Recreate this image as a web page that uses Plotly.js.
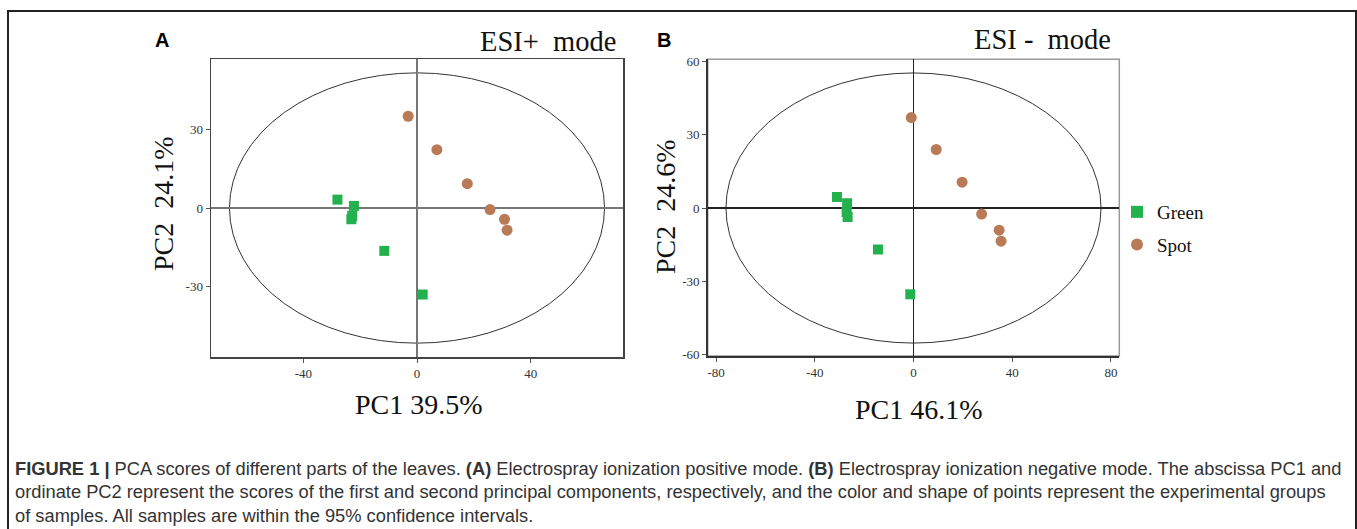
<!DOCTYPE html>
<html>
<head>
<meta charset="utf-8">
<script src="https://cdn.plot.ly/plotly-3.0.1.min.js"></script>
<style>html,body{margin:0;padding:0;background:#fff;}#chart{width:1357px;height:529px;}</style>
</head>
<body>
<div id="chart"></div>
<script>
// ---- data ----
const groups = ["Green", "Spot"];
const panelA_greenX = [-28.0, -22.2, -22.8, -23.1, -11.5, 2.0];
const panelA_greenY = [3.2, 0.8, -3.0, -4.3, -16.4, -33.1];
const panelA_spotX  = [-3.1, 7.0, 17.7, 25.7, 30.8, 31.7];
const panelA_spotY  = [35.1, 22.3, 9.3, -0.6, -4.3, -8.5];
const panelB_greenX = [-31.0, -26.9, -27.1, -26.7, -14.4, -1.3];
const panelB_greenY = [4.5, 2.0, -1.6, -3.7, -17.0, -35.4];
const panelB_spotX  = [-0.9, 9.2, 19.7, 27.6, 34.7, 35.5];
const panelB_spotY  = [37.1, 24.0, 10.6, -2.5, -9.1, -13.6];
// 95% confidence ellipse semi-axes [PC1, PC2]
const ellipseA = [66.0, 51.7];
const ellipseB = [76.0, 55.4];
// tick labels
const tickA_x = [-40, 0, 40];
const tickA_y = [-30, 0, 30];
const tickB_x = [-80, -40, 0, 40, 80];
const tickB_y = [-60, -30, 0, 30, 60];
const labels = {
  panelA: "A", panelB: "B",
  modeA: "ESI+\u00a0\u00a0mode", modeB: "ESI -\u00a0\u00a0mode",
  xA: "PC1 39.5%", yA: "PC2\u00a0\u00a024.1%",
  xB: "PC1 46.1%", yB: "PC2\u00a0\u00a024.6%"
};
const caption = [
  "<b>FIGURE 1 |</b> PCA scores of different parts of the leaves. <b>(A)</b> Electrospray ionization positive mode. <b>(B)</b> Electrospray ionization negative mode. The abscissa PC1 and",
  "ordinate PC2 represent the scores of the first and second principal components, respectively, and the color and shape of points represent the experimental groups",
  "of samples. All samples are within the 95% confidence intervals."
];

// ---- styles ----
const W = 1357, H = 529;
const px = v => v / W, py = v => 1 - v / H;
const GREEN = "#22b14c", BROWN = "#b97a57";
const serif = "Liberation Serif, Times New Roman, serif";
const tickTxt = a => a.map(v => String(v));

const traces = [
  {x: panelA_greenX, y: panelA_greenY, xaxis: "x", yaxis: "y", mode: "markers", type: "scatter",
   name: groups[0], legendgroup: "g", marker: {symbol: "square", size: 10, color: GREEN}},
  {x: panelA_spotX, y: panelA_spotY, xaxis: "x", yaxis: "y", mode: "markers", type: "scatter",
   name: groups[1], legendgroup: "s", marker: {symbol: "circle", size: 11, color: BROWN}},
  {x: panelB_greenX, y: panelB_greenY, xaxis: "x2", yaxis: "y2", mode: "markers", type: "scatter",
   name: groups[0], legendgroup: "g", showlegend: false, marker: {symbol: "square", size: 10, color: GREEN}},
  {x: panelB_spotX, y: panelB_spotY, xaxis: "x2", yaxis: "y2", mode: "markers", type: "scatter",
   name: groups[1], legendgroup: "s", showlegend: false, marker: {symbol: "circle", size: 11, color: BROWN}}
];

const axBase = {
  showgrid: false, ticks: "outside", ticklen: 4, tickcolor: "#555", tickwidth: 1,
  tickfont: {family: serif, size: 13, color: "#333"}, zeroline: true, fixedrange: true
};

const ann = (text, x, y, size, extra) => Object.assign({
  text: text, xref: "paper", yref: "paper", x: px(x), y: py(y), xanchor: "center", yanchor: "middle",
  showarrow: false, font: {family: serif, size: size, color: "#111"}
}, extra || {});

const layout = {
  width: W, height: H, margin: {l: 0, r: 0, t: 0, b: 0},
  paper_bgcolor: "#fff", plot_bgcolor: "#fff", showlegend: true,
  legend: {x: px(1117), y: py(193), xanchor: "left", yanchor: "top", bgcolor: "rgba(0,0,0,0)",
           font: {family: serif, size: 19, color: "#111"}, tracegroupgap: 5, itemsizing: "constant"},
  xaxis: Object.assign({}, axBase, {domain: [px(211), px(623)], range: [-72.5, 72.5], anchor: "y",
    tickvals: tickA_x, ticktext: tickTxt(tickA_x), showline: true, mirror: true, linecolor: "#444", linewidth: 1.5,
    zerolinecolor: "#777", zerolinewidth: 1.2}),
  yaxis: Object.assign({}, axBase, {domain: [py(357), py(59)], range: [-57, 57], anchor: "x",
    tickvals: tickA_y, ticktext: tickTxt(tickA_y), showline: true, mirror: true, linecolor: "#444", linewidth: 1.5,
    zerolinecolor: "#777", zerolinewidth: 1.2}),
  xaxis2: Object.assign({}, axBase, {domain: [px(707.7), px(1119.3)], range: [-83.4, 83.4], anchor: "y2",
    tickvals: tickB_x, ticktext: tickTxt(tickB_x), showline: true, linecolor: "#333", linewidth: 1.5,
    zerolinecolor: "#222", zerolinewidth: 1.2}),
  yaxis2: Object.assign({}, axBase, {domain: [py(356), py(59.3)], range: [-60.7, 61], anchor: "x2",
    tickvals: tickB_y, ticktext: tickTxt(tickB_y), showline: true, linecolor: "#333", linewidth: 1.5,
    zerolinecolor: "#222", zerolinewidth: 1.2}),
  shapes: [
    // outer figure frame
    {type: "rect", xref: "paper", yref: "paper", x0: px(8), x1: px(1356), y0: py(540), y1: py(11),
     line: {color: "#222", width: 2}, layer: "below"},
    // light top/right border of panel B
    {type: "rect", xref: "x2 domain", yref: "y2 domain", x0: 0, x1: 1, y0: 0, y1: 1,
     line: {color: "#999", width: 1.5}, layer: "below"},
    // confidence ellipses
    {type: "circle", xref: "x", yref: "y", x0: -ellipseA[0], x1: ellipseA[0], y0: -ellipseA[1], y1: ellipseA[1],
     line: {color: "#333", width: 1}, layer: "below"},
    {type: "circle", xref: "x2", yref: "y2", x0: -ellipseB[0], x1: ellipseB[0], y0: -ellipseB[1], y1: ellipseB[1],
     line: {color: "#333", width: 1}, layer: "below"}
  ],
  annotations: [
    ann("<b>" + labels.panelA + "</b>", 161.5, 39.5, 20, {font: {family: "Liberation Sans, Arial, sans-serif", size: 20, color: "#000"}}),
    ann("<b>" + labels.panelB + "</b>", 664, 40, 20, {font: {family: "Liberation Sans, Arial, sans-serif", size: 20, color: "#000"}}),
    ann(labels.modeA, 618, 42, 28.5, {xanchor: "right"}),
    ann(labels.modeB, 1113, 39.5, 28.5, {xanchor: "right"}),
    ann(labels.xA, 419, 404, 28),
    ann(labels.yA, 163, 204, 28, {textangle: -90}),
    ann(labels.xB, 919, 409, 28),
    ann(labels.yB, 666, 207, 28, {textangle: -90})
  ].concat(caption.map((t, i) => ({
    text: t, xref: "paper", yref: "paper", x: px(13), y: py(468 + i * 23.5), xanchor: "left", yanchor: "middle",
    showarrow: false, font: {family: "Liberation Sans, Arial, sans-serif", size: 18.3, color: "#333"}
  })))
};

Plotly.newPlot("chart", traces, layout, {displayModeBar: false, staticPlot: true});
</script>
</body>
</html>
